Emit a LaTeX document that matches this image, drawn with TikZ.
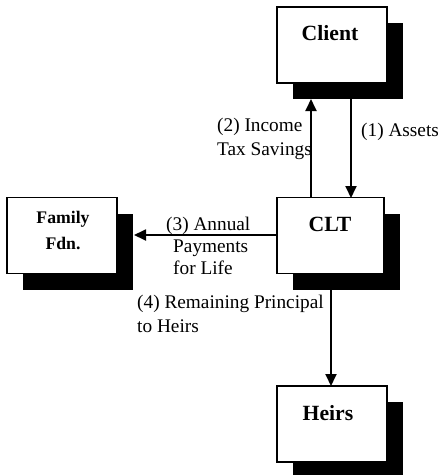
\documentclass[tikz,border=0pt]{standalone}
\usepackage{fontspec}
\setmainfont{Liberation Serif}
\usetikzlibrary{arrows.meta,shadows}
\begin{document}
\begin{tikzpicture}[x=1pt,y=-1pt,
  box/.style={draw=black,line width=1.6pt,fill=white,minimum width=110pt,minimum height=76pt,
    inner sep=0pt,drop shadow={shadow xshift=16pt,shadow yshift=-16pt,fill=black,opacity=1}},
  title/.style={font=\fontsize{21.7}{26}\selectfont\bfseries,inner sep=0pt,anchor=base},
  small title/.style={font=\fontsize{17.7}{26}\selectfont\bfseries,inner sep=0pt,anchor=base,align=center},
  lbl/.style={font=\fontsize{19.3}{24}\selectfont,inner sep=0pt,anchor=base west,align=left},
  flow/.style={line width=1.8pt,-{Triangle[length=12pt,width=11pt]}}]
\useasboundingbox (0,0) rectangle (438,475);
% boxes
\node[box] (client) at (332,45) {};
\node[box,minimum width=107pt] (clt) at (330.5,235.5) {};
\node[box] (heirs) at (332,424) {};
\node[box] (fam) at (62,235.5) {};
% box titles (multi-line nodes sit on the baseline of their last line)
\node[title] (clientT) at (330,40) {Client};
\node[title] (cltT) at (330,231) {CLT};
\node[title] (heirsT) at (328,420) {Heirs};
\node[small title] (famT) at (63,249) {Family\\Fdn.};
% anchor points on the shadows
\coordinate (cs1) at (311,99);
\coordinate (cs2) at (351,99);
\coordinate (ct1) at (311,198);
\coordinate (ct2) at (351,198);
\coordinate (fs) at (134,235);
\coordinate (cl) at (277,235);
\coordinate (cb) at (331,273);
\coordinate (ht) at (331,386);
% connectors
\draw[flow] (ct1) -- (cs1);
\draw[flow] (cs2) -- (ct2);
\draw[flow] (cl) -- (fs);
\draw[flow] (cb) -- (ht);
% connector labels
\node[lbl] (l2) at (217,155) {(2) Income\\Tax Savings};
\node[lbl] (l1) at (361,136) {(1) Assets};
\node[lbl,font=\fontsize{19.3}{22}\selectfont] (l3) at (166,274) {(3) Annual\\\hspace*{7pt}Payments\\\hspace*{7pt}for Life};
\node[lbl] (l4) at (137,332) {(4) Remaining Principal\\to Heirs};
\end{tikzpicture}
\end{document}
